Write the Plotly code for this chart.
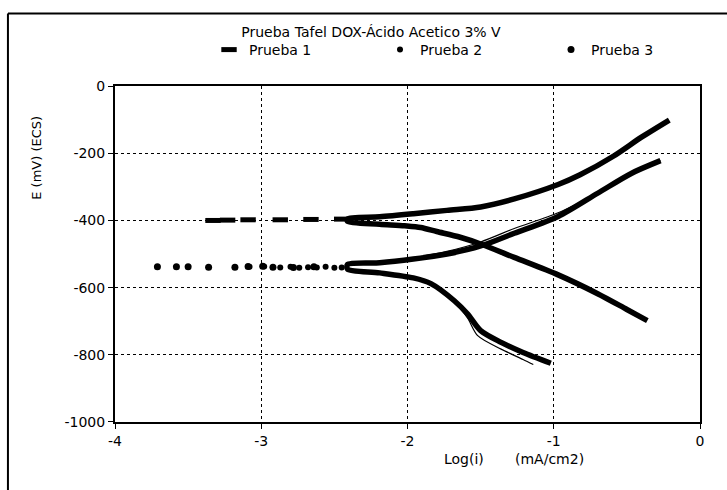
import plotly.graph_objects as go

# ---------------- data ----------------
# Prueba 1 : sparse points near Ecorr (about -400 mV)
p1_pts_x = [-3.33, -3.23, -3.09, -2.87, -2.66, -2.45]
p1_pts_y = [-400, -399, -398, -398, -397, -396]
# Prueba 1 : cathodic branch (from end of scan towards Ecorr) then anodic branch
p1_cat_x = [-0.36, -0.50, -0.70, -0.97, -1.27, -1.50, -1.64, -1.80, -1.91, -2.02, -2.19, -2.41]
p1_cat_y = [-698, -665, -618, -562, -510, -470, -450, -433, -421, -416, -411, -403]
p1_an_x = [-2.41, -2.19, -1.96, -1.73, -1.50, -1.27, -0.97, -0.82, -0.59, -0.40, -0.21]
p1_an_y = [-395, -389, -380, -370, -360, -336, -293, -264, -208, -152, -101]

# Prueba 2 : sparse points near Ecorr (about -540 mV)
p2_pts_x = [-3.08, -2.98, -2.87, -2.80, -2.74, -2.68, -2.62, -2.56, -2.50, -2.45]
p2_pts_y = [-538, -537, -540, -538, -541, -539, -540, -538, -541, -540]
p2_cat_x = [-1.02, -1.21, -1.36, -1.50, -1.59, -1.68, -1.84, -1.96, -2.19, -2.41]
p2_cat_y = [-825, -793, -763, -728, -678, -639, -588, -571, -556, -545]
p2_an_x = [-2.41, -2.19, -1.96, -1.73, -1.50, -1.27, -0.97, -0.70, -0.47, -0.27]
p2_an_y = [-531, -526, -515, -500, -476, -438, -388, -319, -260, -222]

# Prueba 3 : sparse points near Ecorr and (thin) curves
p3_pts_x = [-3.71, -3.58, -3.50, -3.36, -3.18, -3.09, -2.99, -2.92, -2.78, -2.64]
p3_pts_y = [-538, -538, -538, -539, -539, -537, -536, -539, -540, -538]
p3_cat_x = [-1.14, -1.21, -1.36, -1.52, -1.59, -1.68, -1.84, -1.96, -2.19, -2.41]
p3_cat_y = [-829, -814, -783, -743, -690, -641, -588, -571, -556, -545]
p3_an_x = [-2.41, -2.19, -1.96, -1.73, -1.50, -1.27, -0.97, -0.70, -0.47, -0.27]
p3_an_y = [-531, -525, -511, -492, -464, -424, -377, -318, -260, -222]

x_ticks = [-4, -3, -2, -1, 0]
y_ticks = [0, -200, -400, -600, -800, -1000]

FONT = "DejaVu Sans"
BLACK = "black"

fig = go.Figure()

# Prueba 3 thin curves (drawn first, beneath)
fig.add_trace(go.Scatter(x=p3_cat_x + p3_an_x, y=p3_cat_y + p3_an_y,
                         mode="lines", line=dict(color=BLACK, width=1.2, shape="spline", smoothing=0.8),
                         showlegend=False, hoverinfo="skip"))

# Prueba 1
fig.add_trace(go.Scatter(x=p1_pts_x, y=p1_pts_y, mode="markers", name="Prueba 1",
                         marker=dict(symbol="line-ew", size=11, color=BLACK,
                                     line=dict(color=BLACK, width=5))))
fig.add_trace(go.Scatter(x=p1_cat_x + p1_an_x, y=p1_cat_y + p1_an_y, mode="lines",
                         line=dict(color=BLACK, width=5.5, shape="spline", smoothing=0.8),
                         showlegend=False, hoverinfo="skip"))

# Prueba 2
fig.add_trace(go.Scatter(x=p2_pts_x, y=p2_pts_y, mode="markers", name="Prueba 2",
                         marker=dict(symbol="circle", size=6, color=BLACK)))
fig.add_trace(go.Scatter(x=p2_cat_x + p2_an_x, y=p2_cat_y + p2_an_y, mode="lines",
                         line=dict(color=BLACK, width=5.5, shape="spline", smoothing=0.8),
                         showlegend=False, hoverinfo="skip"))

# Prueba 3 dots
fig.add_trace(go.Scatter(x=p3_pts_x, y=p3_pts_y, mode="markers", name="Prueba 3",
                         marker=dict(symbol="circle", size=7, color=BLACK)))

axis_common = dict(showline=True, linecolor=BLACK, linewidth=2, mirror=True,
                   ticks="outside", ticklen=5, tickcolor=BLACK, tickwidth=1,
                   showgrid=True, gridcolor=BLACK, griddash="dot", gridwidth=1,
                   zeroline=False, tickfont=dict(family=FONT, size=14, color=BLACK))

fig.update_xaxes(range=[-4, 0], tickvals=x_ticks, ticktext=[str(v) for v in x_ticks],
                 **axis_common)
fig.update_yaxes(range=[-1000, 0], tickvals=y_ticks, ticktext=[str(v) for v in y_ticks],
                 **axis_common)

fig.update_layout(
    width=727, height=490,
    margin=dict(l=115, r=27, t=84, b=68),
    paper_bgcolor="white", plot_bgcolor="white",
    font=dict(family=FONT, color=BLACK),
    title=dict(text="Prueba Tafel DOX-Ácido Acetico 3% V", x=0.4376, xref="paper",
               xanchor="center", y=1 - 32 / 490, yanchor="middle",
               font=dict(family=FONT, size=14, color=BLACK)),
    legend=dict(orientation="h", traceorder="normal", xref="container", x=0.2875,
                xanchor="left", yref="container", y=1 - 50 / 490, yanchor="middle",
                entrywidth=126, entrywidthmode="pixels",
                font=dict(family=FONT, size=14, color=BLACK), bgcolor="rgba(0,0,0,0)",
                itemsizing="trace"),
    annotations=[
        dict(text="E (mV) (ECS)", x=-0.15, y=0.917, xref="paper", yref="paper",
             textangle=-90, showarrow=False, font=dict(family=FONT, size=13, color=BLACK)),
        dict(text="Log(i)", x=0.597, y=-0.14, xref="paper", yref="paper",
             showarrow=False, font=dict(family=FONT, size=14, color=BLACK)),
        dict(text="(mA/cm2)", x=0.805, y=-0.14, xref="paper", yref="paper",
             showarrow=False, font=dict(family=FONT, size=14, color=BLACK)),
    ],
    shapes=[
        dict(type="line", xref="paper", yref="paper", x0=-0.183, x1=1.06,
             y0=1.216, y1=1.216, line=dict(color=BLACK, width=2)),
        dict(type="line", xref="paper", yref="paper", x0=-0.183, x1=-0.183,
             y0=1.216, y1=-0.21, line=dict(color=BLACK, width=2)),
    ],
    showlegend=True,
)

fig.write_html("out.html")
